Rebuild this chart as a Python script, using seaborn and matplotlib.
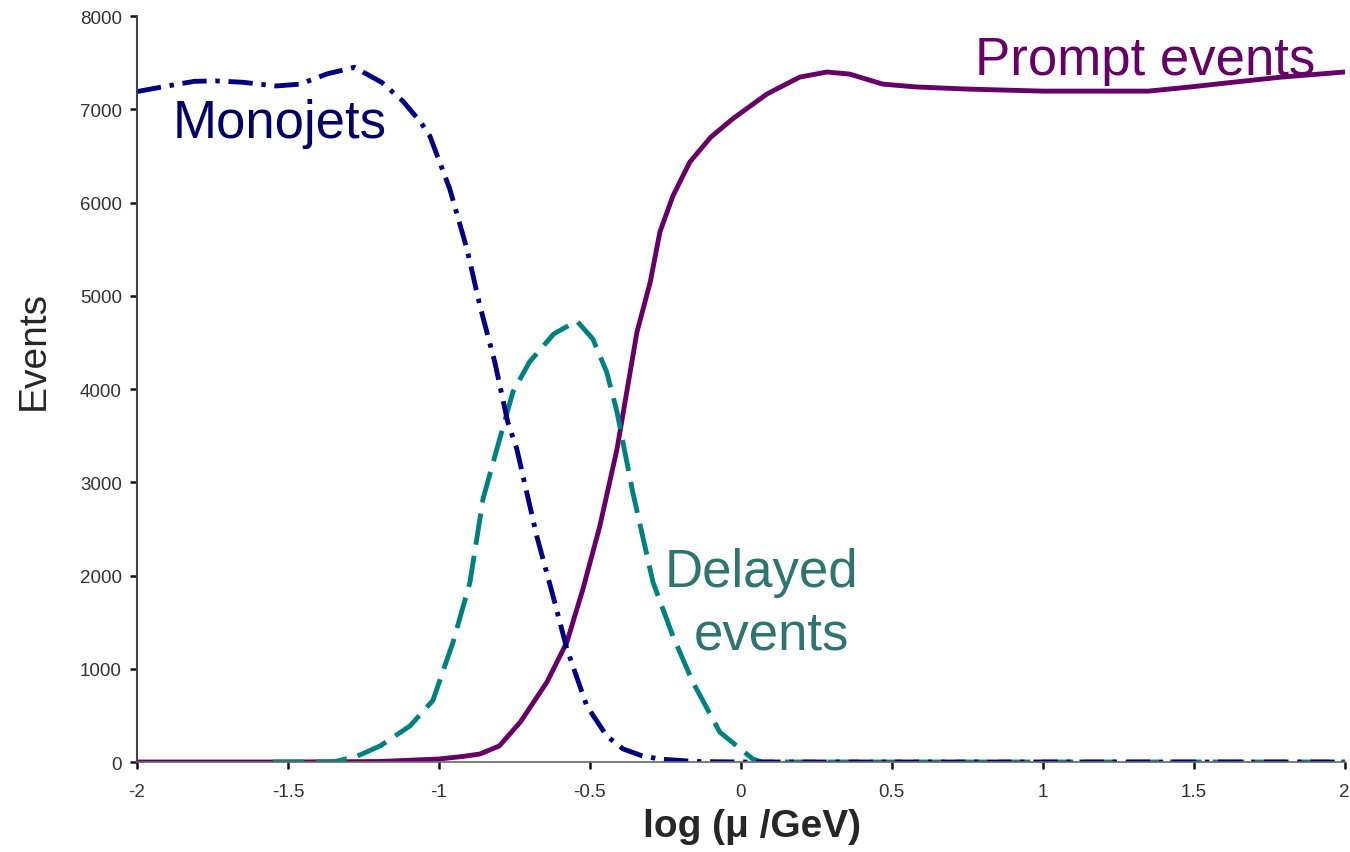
import matplotlib
matplotlib.use("Agg")
import matplotlib.pyplot as plt
import seaborn as sns
from matplotlib.ticker import FuncFormatter

# ---- data ----
mono_x = [-2.0, -1.9, -1.81, -1.74, -1.65, -1.54, -1.46, -1.37, -1.28, -1.19, -1.12, -1.06, -1.03,
          -0.964, -0.907, -0.864, -0.815, -0.772, -0.742, -0.676, -0.622, -0.576, -0.51, -0.444,
          -0.39, -0.33, -0.27, -0.15, 0.0, 0.5, 1.0, 1.5, 2.0]
mono_y = [7190, 7250, 7300, 7305, 7290, 7250, 7270, 7380, 7450, 7290, 7090, 6860, 6713,
          6145, 5500, 4890, 4290, 3646, 3357, 2424, 1780, 1212, 600, 279,
          140, 70, 32, 5, 0, 0, 0, 0, 0]

delay_x = [-1.55, -1.35, -1.27, -1.195, -1.096, -1.02, -0.953, -0.897, -0.854, -0.808, -0.755,
           -0.70, -0.62, -0.543, -0.49, -0.444, -0.41, -0.358, -0.291, -0.225, -0.159, -0.07,
           0.04, 0.07, 0.5, 1.0, 1.5, 2.0]
delay_y = [0, 0, 64, 172, 386, 660, 1287, 1930, 2820, 3357, 3968,
           4290, 4590, 4730, 4536, 4180, 3753, 2895, 1930, 1351, 858, 322,
           32, 0, 0, 0, 0, 0]

prompt_x = [-2.0, -1.5, -1.2, -1.0, -0.92, -0.864, -0.80, -0.73, -0.642, -0.576, -0.523, -0.467,
            -0.41, -0.344, -0.30, -0.268, -0.225, -0.169, -0.10, -0.026, 0.086, 0.195, 0.285,
            0.36, 0.47, 0.58, 0.75, 1.0, 1.19, 1.35, 1.49, 1.63, 1.79, 2.0]
prompt_y = [0, 0, 5, 32, 60, 86, 172, 430, 858, 1287, 1855, 2530,
            3357, 4611, 5147, 5684, 6070, 6434, 6700, 6900, 7163, 7345, 7400,
            7378, 7270, 7240, 7217, 7195, 7195, 7195, 7240, 7290, 7345, 7400]

x_ticks = [-2, -1.5, -1, -0.5, 0, 0.5, 1, 1.5, 2]
y_ticks = [0, 1000, 2000, 3000, 4000, 5000, 6000, 7000, 8000]

series_names = ["Monojets", "Delayed\nevents", "Prompt events"]
series_colors = ["#000080", "#008080", "#660066"]
text_colors = ["#000066", "#2E7470", "#660066"]

sns.set_theme(style="white")
plt.rcParams['font.family'] = ['Liberation Sans', 'DejaVu Sans']

fig = plt.figure(figsize=(13.5, 8.53), dpi=100)
ax = fig.add_axes([0.1015, 0.1055, 0.8945, 0.8745])

LW = 3.5
sns.lineplot(x=prompt_x, y=prompt_y, ax=ax, color=series_colors[2], lw=LW, sort=False)
sns.lineplot(x=delay_x, y=delay_y, ax=ax, color=series_colors[1], lw=LW, sort=False)
sns.lineplot(x=mono_x, y=mono_y, ax=ax, color=series_colors[0], lw=LW, sort=False)

lines = ax.get_lines()
lines[1].set_dashes((6.5, 2.3))
lines[2].set_dashes((5, 1.8, 0.9, 1.8))
for ln in lines:
    ln.set_solid_joinstyle('round')
    ln.set_dash_joinstyle('round')

ax.set_xlim(-2, 2)
ax.set_ylim(0, 8000)
ax.set_xticks(x_ticks)
ax.set_yticks(y_ticks)
ax.xaxis.set_major_formatter(FuncFormatter(lambda v, p: f"{v:g}"))
ax.tick_params(axis='both', which='major', bottom=True, left=True, labelsize=13.5,
               labelcolor="#333333", colors="#111111", direction='out', length=5, width=1.8)
ax.tick_params(axis='y', pad=6, labelcolor="#333333")
ax.tick_params(axis='x', pad=10, labelcolor="#333333")
for s in ['top', 'right']:
    ax.spines[s].set_visible(False)
ax.spines['left'].set_color('#444444')
ax.spines['left'].set_linewidth(1.5)
ax.spines['bottom'].set_color('#666666')
ax.spines['bottom'].set_linewidth(1.2)

ax.set_xlabel("log (\u03bc /GeV)", fontsize=28, fontweight='bold')
ax.set_ylabel("Events", fontsize=28)
ax.xaxis.set_label_coords(0.509, -0.062)
ax.yaxis.set_label_coords(-0.071, 0.553)

ax.text(-1.527, 6702, series_names[0], color=text_colors[0], fontsize=38,
        ha='center', va='baseline')
d1, d2 = series_names[1].split("\n")
ax.text(0.068, 1887, d1, color=text_colors[1], fontsize=38, ha='center', va='baseline')
ax.text(0.103, 1212, d2, color=text_colors[1], fontsize=38, ha='center', va='baseline')
ax.text(1.34, 7378, series_names[2], color=text_colors[2], fontsize=38,
        ha='center', va='baseline')

fig.savefig("out.png", dpi=100)
